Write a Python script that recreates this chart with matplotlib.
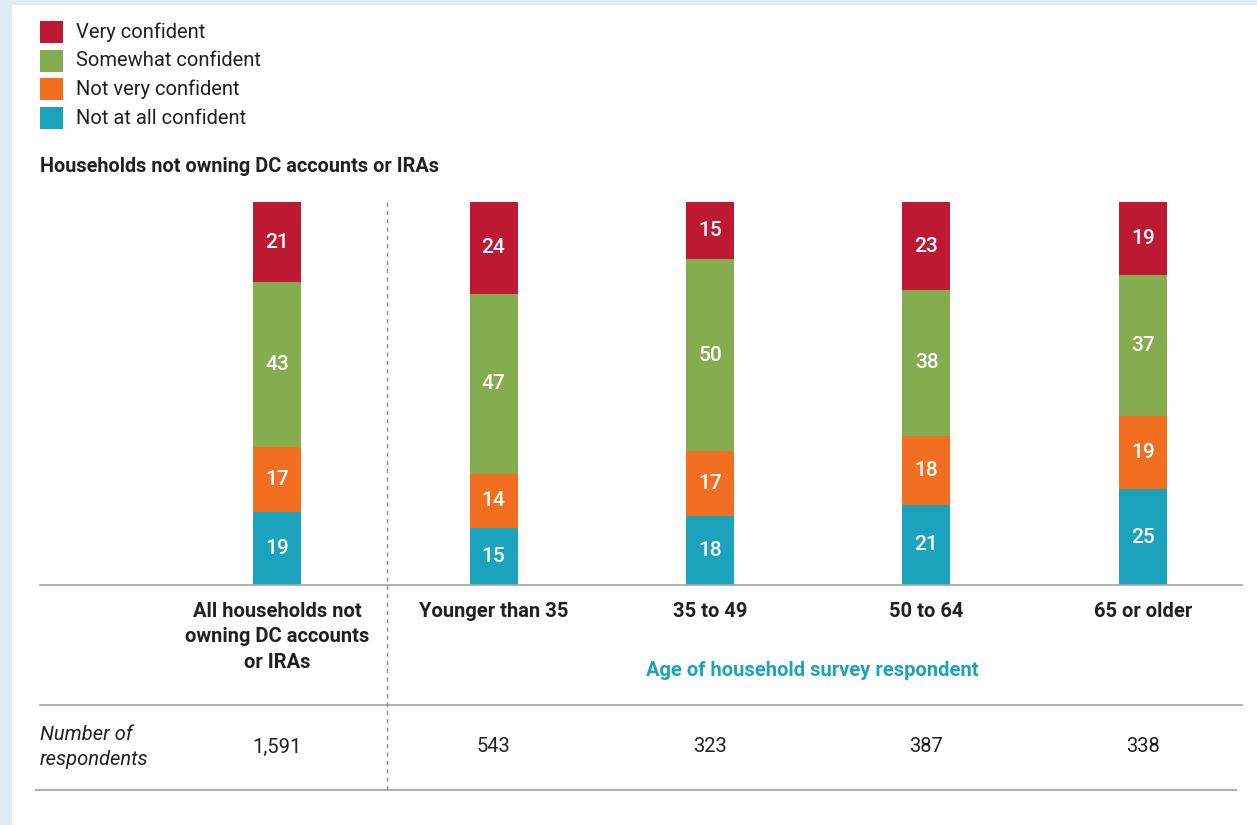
import matplotlib
matplotlib.use("Agg")
import matplotlib.pyplot as plt
from matplotlib.patches import Rectangle
from matplotlib.lines import Line2D
import numpy as np

plt.rcParams['font.family'] = ['Roboto', 'DejaVu Sans']

# data
groups = ["All households not\nowning DC accounts\nor IRAs", "Younger than 35",
          "35 to 49", "50 to 64", "65 or older"]
respondents = ["1,591", "543", "323", "387", "338"]
not_at_all = [19, 15, 18, 21, 25]
not_very = [17, 14, 17, 18, 19]
somewhat = [43, 47, 50, 38, 37]
very = [21, 24, 15, 23, 19]

series_names = ["Not at all confident", "Not very confident", "Somewhat confident", "Very confident"]
series_vals = [not_at_all, not_very, somewhat, very]
colors = ["#1ba3be", "#f26e21", "#86ac50", "#be1932"]

W, H = 1257, 825
TXT = "#231f20"
GRID = "#a9a9a9"

fig = plt.figure(figsize=(W / 100, H / 100), dpi=100)
fig.patch.set_facecolor("#deecf2")

# helpers to place things in pixel units (top-left origin)
def fx(px):
    return px / W

def fy(py):
    return 1 - py / H

fig.patches.append(Rectangle((fx(12), 0), 1, fy(5), transform=fig.transFigure,
                             facecolor="white", edgecolor="none", zorder=-10))

# bar axes: x from 40 to 1242 px, y from 202 to 585 px
ax = fig.add_axes([fx(40), fy(585), fx(1242 - 40), (585 - 202) / H])
ax.set_facecolor("none")
step = 216.5
x = np.arange(len(groups))
ax.set_xlim((40 - 277) / step, (1242 - 277) / step)
ax.set_ylim(0, 100)
ax.axis("off")

bottom = np.zeros(len(groups))
for vals, col in zip(series_vals, colors):
    vals = np.array(vals)
    ax.bar(x, vals, width=48 / step, bottom=bottom, color=col, linewidth=0)
    for xi, b, v in zip(x, bottom, vals):
        ax.text(xi, b + v / 2, str(v), ha="center", va="center", color="white",
                fontsize=15, fontweight="medium")
    bottom += vals

# legend
leg_y = [32, 61, 89, 118]
for yy, name, col in zip(leg_y, series_names[::-1], colors[::-1]):
    fig.patches.append(Rectangle((fx(40), fy(yy + 11)), fx(23), 22 / H,
                                 transform=fig.transFigure, facecolor=col, edgecolor="none"))
    fig.text(fx(76), fy(yy), name, ha="left", va="center", fontsize=14.5, color=TXT)

fig.text(fx(40), fy(166), "Households not owning DC accounts or IRAs", ha="left",
         va="center", fontsize=14.3, fontweight="bold", color=TXT)

# category labels under bars
tr = ax.get_xaxis_transform()
for xi, g in zip(x, groups):
    ax.text(xi, -(602 - 585) / 383, g, transform=tr, ha="center", va="top",
            fontsize=14.5, fontweight="bold", color=TXT, linespacing=1.42, clip_on=False)

fig.text(fx(812), fy(671), "Age of household survey respondent", ha="center", va="center",
         fontsize=14.5, fontweight="bold", color="#1ba3be")

# respondents row
fig.text(fx(40), fy(747), "Number of\nrespondents", ha="left", va="center",
         fontsize=14.5, style="italic", color=TXT, linespacing=1.45)
for xi, n in zip(x, respondents):
    ax.text(xi, -(747 - 585) / 383, n, transform=tr, ha="center", va="center",
            fontsize=14.5, color=TXT, clip_on=False)

# rules
for y0, x0, x1 in [(585, 40, 1242), (705, 40, 1242), (790, 36, 1236)]:
    fig.add_artist(Line2D([fx(x0), fx(x1)], [fy(y0), fy(y0)], transform=fig.transFigure,
                          color=GRID, linewidth=1.3))
fig.add_artist(Line2D([fx(387), fx(387)], [fy(202), fy(790)], transform=fig.transFigure,
                      color="#8a8a8a", linewidth=1, linestyle=(0, (3, 3))))

fig.savefig("out.png", dpi=100, facecolor=fig.get_facecolor())
